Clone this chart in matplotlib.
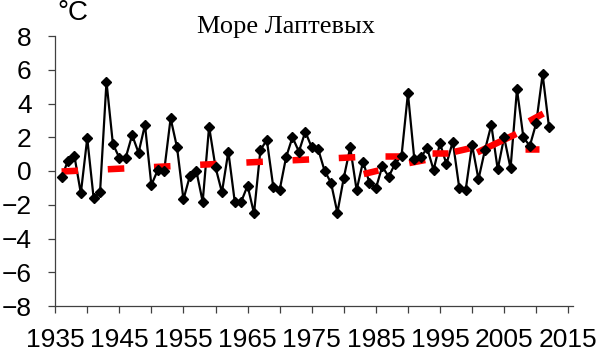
import matplotlib.pyplot as plt
import numpy as np

# Data -------------------------------------------------------------------------------- #
years = np.arange(1936, 2013)
temp = [
    -0.37, 0.61, 0.89, -1.32, 1.94, -1.62, -1.23, 5.29, 1.60, 0.79,
    0.79, 2.13, 1.08, 2.73, -0.83, 0.06, 0.02, 3.12, 1.40, -1.68,
    -0.30, 0.02, -1.82, 2.63, 0.22, -1.26, 1.15, -1.82, -1.82, -0.87,
    -2.51, 1.24, 1.84, -0.93, -1.13, 0.81, 2.00, 1.15, 2.33, 1.40,
    1.30, 0.02, -0.69, -2.47, -0.40, 1.40, -1.13, 0.55, -0.69, -1.03,
    0.27, -0.34, 0.44, 0.89, 4.60, 0.69, 0.81, 1.35, 0.06, 1.64,
    0.41, 1.74, -0.99, -1.13, 1.54, -0.49, 1.23, 2.73, 0.10, 2.00,
    0.16, 4.84, 2.00, 1.48, 2.83, 5.73, 2.59,
]

# dashed linear trend, first part of the record
trend_years = [1936, 1982]
trend_vals = [-0.03, 0.82]

# short red pieces after 1982 (start year, end year, start value, end value)
seg_start = [1983.1, 1986.5, 1990.2, 1993.8, 1997.3, 2000.8, 2008.2, 2008.9]
seg_end = [1985.4, 1988.7, 1992.7, 1996.2, 1999.6, 2006.9, 2010.5, 2011.1]
seg_v0 = [-0.18, 0.90, 0.47, 1.05, 1.14, 1.10, 1.29, 2.95]
seg_v1 = [0.03, 0.90, 0.65, 1.05, 1.34, 2.20, 1.29, 3.40]

title = "Море Лаптевых"

# Plot -------------------------------------------------------------------------------- #
plt.rcParams["font.family"] = ["Liberation Sans", "DejaVu Sans"]

fig = plt.figure(figsize=(6.13, 3.6), dpi=100)
ax = fig.add_axes([0.0900, 0.15, 0.8454, 0.75])

red_lw = 4.7
ax.plot(years, temp, color="black", lw=1.6, zorder=2)
ax.plot(
    trend_years, trend_vals, color="red", lw=red_lw, solid_capstyle="butt",
    dash_capstyle="butt", linestyle=(0, (11.9 / red_lw, 21.4 / red_lw)), zorder=3,
)
for x0, x1, v0, v1 in zip(seg_start, seg_end, seg_v0, seg_v1):
    ax.plot([x0, x1], [v0, v1], color="red", lw=red_lw, solid_capstyle="butt", zorder=3)
ax.plot(years, temp, ls="none", marker="D", ms=5.2, color="black", zorder=4)

ax.set_xlim(1935, 2015.8)
ax.set_ylim(-8, 8)
ax.set_xticks(np.arange(1935, 2016, 10))
ax.set_xticks(np.arange(1935, 2016, 5), minor=True)
ax.set_yticks(np.arange(-8, 9, 2))

for s in ["top", "right"]:
    ax.spines[s].set_visible(False)
for s in ["left", "bottom"]:
    ax.spines[s].set_color("#404040")
    ax.spines[s].set_linewidth(0.9)

ax.tick_params(axis="x", which="both", direction="out", length=5, width=0.9,
               color="#404040", labelsize=19, pad=11)
ax.tick_params(axis="y", direction="out", length=5, width=0.9,
               color="#404040", labelsize=19, pad=12)

fig.text(0.467, 0.925, title, ha="center", va="center", fontsize=19,
         family="Liberation Serif")
fig.text(0.094, 1.0, "°C", ha="left", va="top", fontsize=20)

fig.savefig("out.png", dpi=100)
